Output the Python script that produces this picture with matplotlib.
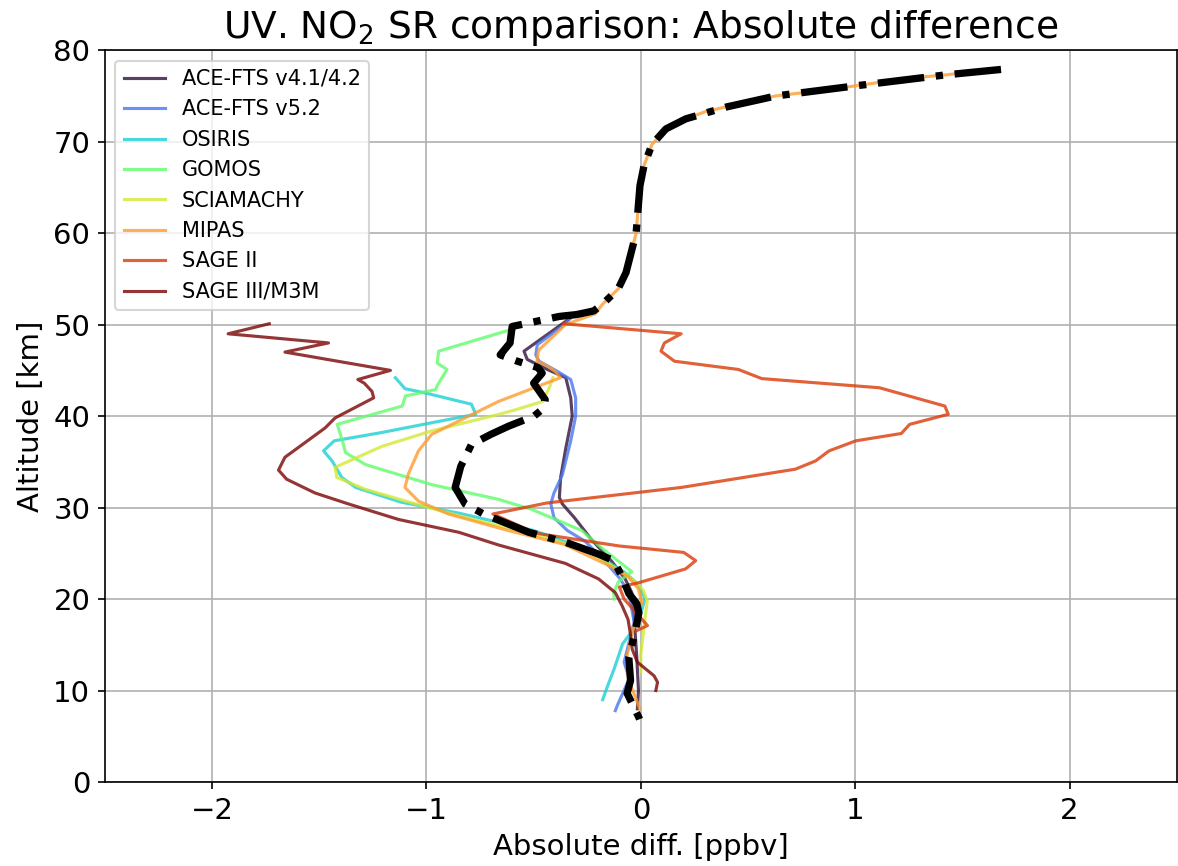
import numpy as np
import matplotlib
matplotlib.use("Agg")
import matplotlib.pyplot as plt

# Profiles: altitude [km] and absolute difference [ppbv]
instruments = [
    "ACE-FTS v4.1/4.2",
    "ACE-FTS v5.2",
    "OSIRIS",
    "GOMOS",
    "SCIAMACHY",
    "MIPAS",
    "SAGE II",
    "SAGE III/M3M",
]

ace41_alt = [50.7, 47.1, 46.2, 45.1, 44.2, 42.0, 40.0, 36.5, 33.3, 31.1, 30.4, 28.9,
             27.1, 26.5, 24.1, 22.2, 20.7, 17.5, 13.7, 10.0, 8.0]
ace41_val = [-0.33, -0.545, -0.53, -0.436, -0.35, -0.327, -0.32, -0.35, -0.374, -0.38,
             -0.366, -0.31, -0.25, -0.23, -0.135, -0.073, -0.042, -0.03, -0.019, -0.011,
             -0.016]

ace52_alt = [51.1, 50.0, 47.8, 46.7, 46.0, 44.9, 44.0, 42.0, 40.0, 37.3, 33.6, 31.6,
             30.4, 28.9, 27.5, 26.3, 24.1, 22.2, 20.7, 17.5, 13.1, 11.3, 8.4, 7.8]
ace52_val = [-0.312, -0.358, -0.483, -0.49, -0.475, -0.39, -0.327, -0.304, -0.304,
             -0.327, -0.366, -0.405, -0.42, -0.405, -0.343, -0.259, -0.166, -0.096,
             -0.057, -0.031, -0.078, -0.054, -0.109, -0.119]

osiris_alt = [44.2, 43.0, 42.5, 41.3, 40.2, 39.3, 38.2, 37.3, 36.2, 35.1, 33.3, 32.2,
              30.6, 29.4, 27.5, 25.5, 24.0, 23.0, 22.0, 21.0, 20.0, 18.5, 16.5, 15.1,
              12.4, 10.5, 9.0]
osiris_val = [-1.145, -1.10, -1.0, -0.79, -0.77, -0.97, -1.21, -1.43, -1.48, -1.44,
              -1.395, -1.33, -1.12, -0.85, -0.50, -0.26, -0.15, -0.08, -0.03, 0.0,
              0.02, 0.0, -0.04, -0.085, -0.124, -0.155, -0.178]

gomos_alt = [49.5, 47.1, 45.8, 45.1, 43.6, 42.9, 42.2, 41.1, 39.1, 37.3, 36.0, 34.7,
             32.5, 30.9, 29.8, 27.5, 25.6, 24.4, 23.0, 21.9, 20.7, 20.0]
gomos_val = [-0.60, -0.943, -0.95, -0.904, -0.943, -0.958, -1.098, -1.113, -1.416,
             -1.392, -1.377, -1.284, -0.974, -0.664, -0.509, -0.276, -0.183, -0.119,
             -0.042, -0.104, -0.127, -0.124]

sciamachy_alt = [44.2, 43.1, 41.6, 40.7, 40.2, 38.4, 36.7, 34.4, 33.3, 32.0, 30.4,
                 28.9, 27.1, 25.5, 24.0, 23.0, 22.0, 21.0, 19.8, 18.0, 16.0, 14.0, 12.0]
sciamachy_val = [-0.41, -0.427, -0.459, -0.583, -0.661, -0.973, -1.207, -1.426, -1.418,
                 -1.285, -1.051, -0.817, -0.505, -0.27, -0.16, -0.09, -0.03, 0.01, 0.03,
                 0.02, 0.01, 0.0, 0.0]

mipas_alt = [77.9, 77.6, 77.3, 76.9, 76.1, 75.5, 75.0, 73.8, 73.3, 72.5, 71.4, 69.7,
             67.4, 65.2, 60.0, 57.8, 55.7, 53.9, 52.2, 51.2, 50.0, 47.2, 46.0, 45.6,
             44.9, 44.2, 41.6, 39.8, 38.0, 36.2, 33.7, 32.2, 30.7, 29.3, 27.5, 26.0,
             25.0, 23.5, 22.4, 21.1, 19.6, 18.0, 16.3, 13.7, 11.1, 9.3, 8.0]
mipas_val = [1.66, 1.545, 1.418, 1.232, 1.0, 0.805, 0.628, 0.396, 0.303, 0.21, 0.117,
             0.052, 0.015, -0.004, -0.022, -0.046, -0.069, -0.106, -0.18, -0.212, -0.352,
             -0.477, -0.484, -0.445, -0.40, -0.375, -0.664, -0.82, -0.976, -1.037,
             -1.084, -1.10, -1.037, -0.897, -0.62, -0.36, -0.27, -0.135, -0.057, -0.011,
             0.005, -0.02, -0.042, -0.065, -0.057, -0.026, -0.005]

sage2_alt = [50.1, 49.0, 48.0, 47.1, 46.0, 45.1, 44.1, 43.1, 41.1, 40.2, 39.1, 38.1,
             37.3, 36.2, 35.1, 34.2, 32.2, 30.5, 29.3, 27.2, 25.8, 25.1, 24.2, 23.3,
             21.8, 21.3, 20.0, 17.1, 16.5]
sage2_val = [-0.36, 0.188, 0.11, 0.094, 0.157, 0.455, 0.564, 1.113, 1.418, 1.434, 1.254,
             1.215, 1.003, 0.878, 0.815, 0.721, 0.188, -0.439, -0.69, -0.49, -0.10, 0.2,
             0.256, 0.209, -0.008, -0.10, -0.078, 0.031, -0.023]

sage3_alt = [50.1, 49.0, 48.0, 47.0, 45.0, 44.0, 43.6, 42.7, 42.0, 39.8, 38.7, 35.5,
             34.1, 33.1, 31.6, 30.4, 28.7, 27.3, 25.9, 23.9, 22.2, 20.7, 19.3, 17.8,
             16.4, 14.5, 13.1, 11.6, 10.9, 10.0]
sage3_val = [-1.733, -1.925, -1.457, -1.66, -1.168, -1.32, -1.29, -1.254, -1.246, -1.426,
             -1.473, -1.66, -1.69, -1.652, -1.52, -1.364, -1.13, -0.849, -0.662, -0.352,
             -0.197, -0.119, -0.088, -0.06, -0.05, -0.04, -0.016, 0.062, 0.078, 0.07]

mean_alt = [77.9, 77.3, 76.1, 75.0, 73.8, 72.5, 71.4, 69.7, 67.4, 65.2, 60.0, 57.8,
            55.7, 53.9, 52.2, 51.5, 51.1, 50.9, 49.8, 48.0, 46.7, 46.0, 45.3, 44.7,
            43.6, 41.8, 40.9, 40.0, 38.9, 38.0, 36.9, 34.5, 32.2, 30.4, 29.3, 27.3,
            26.2, 24.9, 24.2, 22.5, 20.6, 19.5, 18.5, 17.3, 15.8, 13.6, 11.1, 9.7, 7.1,
            6.5]
mean_val = [1.68, 1.42, 1.0, 0.63, 0.40, 0.21, 0.117, 0.052, 0.015, -0.004, -0.022,
            -0.046, -0.069, -0.106, -0.18, -0.22, -0.30, -0.38, -0.60, -0.61, -0.656,
            -0.576, -0.48, -0.46, -0.50, -0.446, -0.452, -0.498, -0.617, -0.70, -0.79,
            -0.84, -0.866, -0.82, -0.734, -0.523, -0.35, -0.196, -0.126, -0.089, -0.056,
            -0.019, -0.009, -0.019, -0.033, -0.056, -0.048, -0.064, -0.01, 0.0]

profiles = [
    (ace41_val, ace41_alt),
    (ace52_val, ace52_alt),
    (osiris_val, osiris_alt),
    (gomos_val, gomos_alt),
    (sciamachy_val, sciamachy_alt),
    (mipas_val, mipas_alt),
    (sage2_val, sage2_alt),
    (sage3_val, sage3_alt),
]

colors = plt.cm.turbo(np.linspace(0, 1, len(instruments)))

fig = plt.figure(figsize=(1178 / 150, 866 / 150), dpi=150)
ax = fig.add_axes([0.089, 0.097, 0.910, 0.845])

for i in range(len(instruments)):
    vals, alts = profiles[i]
    ax.plot(vals, alts, color=colors[i], alpha=0.8, lw=1.5, label=instruments[i])

ax.plot(mean_val, mean_alt, "k-.", lw=3.5, zorder=10)

ax.set_xlim(-2.5, 2.5)
ax.set_ylim(0, 80)
ax.grid(True)
ax.tick_params(labelsize=14)
ax.set_xlabel("Absolute diff. [ppbv]", fontsize=14)
ax.set_ylabel("Altitude [km]", fontsize=14)
ax.set_title("UV. NO$_2$ SR comparison: Absolute difference", fontsize=18)
ax.legend(loc="upper left", fontsize=10)

fig.savefig("out.png", dpi=150)
